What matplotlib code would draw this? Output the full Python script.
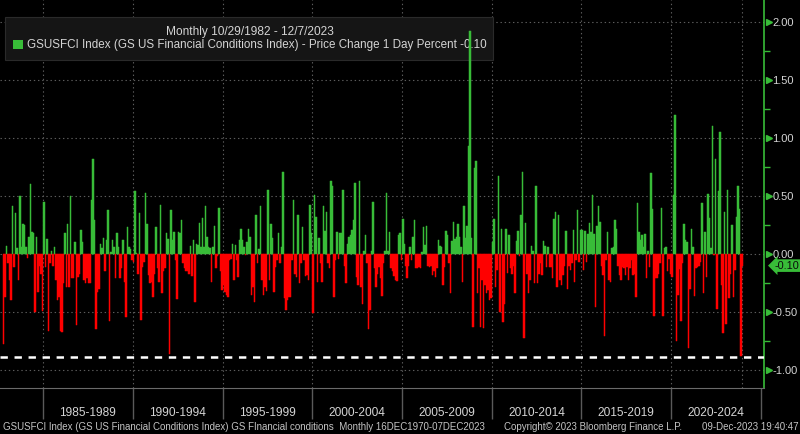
import numpy as np
import matplotlib
matplotlib.use('Agg')
import matplotlib.pyplot as plt
from matplotlib.patches import Rectangle
from matplotlib.ticker import MultipleLocator

# monthly change of the GS US Financial Conditions Index
# Oct 1982 - May 1987
chg_1982_1987 = [-0.78, -0.37, 0.07, -0.08, -0.22, -0.40, 0.41, -0.11, 0.35, 0.05,
                 -0.22, 0.50, 0.06, 0.26, 0.25, 0.06, -0.03, 0.15, 0.60, 0.19,
                 0.18, -0.50, 0.15, -0.33, -0.10, -0.17, -0.49, 0.45, -0.11, 0.13,
                 -0.66, -0.08, 0.03, -0.10, 0.06, -0.22, -0.40, -0.37, -0.66, -0.67,
                 -0.25, 0.18, -0.28, 0.26, -0.28, 0.50, -0.21, -0.21, 0.10, -0.61,
                 -0.20, -0.17, 0.21, 0.10, -0.22, -0.25]
# Jun 1987 - May 1992
chg_1987_1992 = [-0.21, -0.25, -0.25, 0.47, 0.82, 0.29, -0.65, -0.33, -0.30, 0.09,
                 0.05, 0.14, -0.15, 0.12, 0.38, -0.58, 0.02, 0.12, 0.06, -0.21,
                 0.18, 0.06, -0.21, -0.12, 0.12, -0.24, -0.54, 0.23, 0.06, 0.04,
                 -0.05, -0.07, 0.54, 0.01, -0.17, 0.35, -0.57, -0.11, -0.07, 0.53,
                 0.26, -0.18, -0.25, -0.24, -0.37, -0.17, 0.23, -0.12, -0.24, 0.42,
                 -0.34, -0.15, -0.12, 0.18, 0.13, -0.86, 0.38, 0.12, 0.19, -0.05]
# Jun 1992 - Nov 1996
chg_1992_1996 = [-0.39, 0.19, 0.18, 0.29, -0.08, -0.12, -0.15, -0.15, -0.17, 0.07,
                 -0.19, 0.12, -0.41, 0.09, 0.08, 0.27, 0.06, 0.31, 0.06, 0.41,
                 0.15, 0.06, 0.05, -0.24, 0.06, 0.24, -0.12, -0.02, 0.40, -0.15,
                 -0.31, -0.27, -0.33, -0.35, -0.37, -0.05, -0.04, 0.09, -0.22, 0.08,
                 -0.05, -0.20, 0.12, 0.22, 0.12, 0.06, -0.01, 0.10, 0.22, 0.15,
                 -0.35, -0.28, -0.41, 0.34]
# Dec 1996 - Oct 2001
chg_1996_2001 = [-0.08, 0.04, 0.41, -0.22, -0.35, -0.28, -0.32, 0.55, -0.22, 0.26,
                 0.14, -0.33, -0.11, -0.05, 0.18, -0.08, 0.06, 0.71, -0.38, -0.48,
                 -0.40, -0.37, -0.37, -0.05, 0.47, -0.17, -0.20, 0.34, -0.25, -0.08,
                 0.23, -0.05, -0.19, -0.18, -0.22, 0.42, 0.18, -0.51, 0.51, 0.32,
                 -0.24, 0.14, -0.08, -0.24, 0.41, 0.20, 0.36, -0.08, -0.12, 0.63,
                 0.59, -0.37, -0.05, 0.19, -0.04, 0.18, 0.18, 0.55, -0.10]
# Nov 2001 - Jul 2006
chg_2001_2006 = [-0.25, 0.09, 0.15, 0.16, 0.21, 0.29, 0.61, -0.20, -0.27, 0.63,
                 -0.28, -0.43, 0.03, 0.16, -0.08, -0.65, -0.48, 0.03, 0.45, -0.12,
                 -0.28, -0.17, -0.11, -0.21, -0.36, -0.08, 0.03, 0.53, 0.03, 0.19,
                 -0.12, -0.15, -0.19, -0.22, -0.23, 0.16, 0.18, -0.05, 0.30, 0.09,
                 -0.10, -0.21, -0.10, 0.06, -0.05, 0.15, 0.29, -0.12, -0.12, -0.11,
                 -0.12, 0.02, 0.23, 0.08, 0.24, -0.10, -0.11]
# Aug 2006 - Apr 2011
chg_2006_2011 = [-0.10, -0.18, -0.15, -0.20, -0.12, 0.12, 0.07, 0.06, -0.27, -0.11,
                 0.20, 0.16, -0.08, -0.34, 0.11, 0.28, 0.13, 0.15, 0.26, 0.15,
                 0.06, -0.24, 0.41, 0.14, 0.24, 0.93, 1.92, 0.14, -0.63, 0.74,
                 0.80, -0.34, -0.12, -0.63, -0.22, -0.64, -0.27, -0.34, -0.31, -0.40,
                 -0.38, 0.10, 0.30, -0.28, -0.14, 0.67, -0.50, 0.22, -0.59, -0.43,
                 0.22, -0.16, 0.16, -0.12, -0.17, -0.10, -0.34]
# May 2011 - Jan 2016
chg_2011_2016 = [0.11, 0.20, -0.02, 0.34, 0.71, -0.72, 0.27, -0.17, -0.34, -0.22,
                 0.07, 0.03, -0.25, 0.59, -0.25, -0.17, -0.08, -0.18, 0.11, 0.07,
                 -0.11, 0.06, -0.11, -0.11, -0.21, 0.30, 0.36, -0.28, 0.34, -0.22,
                 -0.27, -0.18, -0.10, 0.20, -0.30, -0.10, -0.14, -0.08, 0.21, -0.24,
                 -0.05, 0.38, -0.07, 0.21, 0.21, -0.14, 0.20, -0.07, 0.17, 0.27,
                 0.19, 0.51, 0.17, -0.46, 0.24, 0.41, 0.28]
# Feb 2016 - Mar 2020
chg_2016_2020 = [-0.10, -0.18, -0.71, -0.05, 0.19, -0.22, -0.24, 0.05, 0.06, 0.29,
                 0.22, -0.10, -0.18, -0.22, -0.11, -0.12, -0.18, -0.11, -0.22, -0.12,
                 -0.05, -0.18, -0.17, -0.37, 0.44, 0.19, 0.12, 0.16, 0.06, 0.17,
                 -0.21, 0.03, -0.11, 0.70, 0.39, -0.53, -0.21, -0.21, -0.17, -0.08,
                 0.40, -0.53, 0.05, 0.06, -0.15, -0.04, -0.17, -0.20, 0.51, 1.20]
# Apr 2020 - Dec 2023
chg_2020_2023 = [-0.75, -0.35, -0.13, -0.58, -0.08, 0.26, 0.12, 0.10, -0.81, -0.30,
                 0.22, 0.06, -0.36, -0.12, -0.11, -0.10, -0.07, 0.44, -0.34, 0.19,
                 -0.20, 0.52, 0.31, 0.05, 1.10, -0.01, 0.82, -0.47, 0.54, 1.05,
                 -0.27, -0.68, 0.36, -0.60, 0.55, -0.38, -0.17, 0.25, -0.37, -0.14,
                 0.32, 0.59, 0.39, -0.88, -0.10]

first_month = 1982 + 9 / 12      # Oct 1982
last_date = 2023 + 340 / 365     # 12/7/2023
dash_level = -0.885
last_value = '-0.10'
year_labels = ['1985-1989', '1990-1994', '1995-1999', '2000-2004',
               '2005-2009', '2010-2014', '2015-2019', '2020-2024']
y_ticks = [-1.0, -0.5, 0.0, 0.5, 1.0, 1.5, 2.0]

GREEN = '#38bc38'
RED = '#ff0000'
TXT = '#d4d4d4'

plt.rcParams['font.family'] = ['Liberation Sans', 'DejaVu Sans']
plt.rcParams['lines.scale_dashes'] = False

chg = np.array(chg_1982_1987 + chg_1987_1992 + chg_1992_1996 + chg_1996_2001 +
               chg_2001_2006 + chg_2006_2011 + chg_2011_2016 + chg_2016_2020 +
               chg_2020_2023)
x = first_month + np.arange(len(chg)) / 12
colors = np.where(chg >= 0, GREEN, RED)

fig = plt.figure(figsize=(8, 4.34), dpi=100, facecolor='black')
ax = fig.add_axes([0.0, 0.106, 0.955, 0.894], facecolor='black')

# legend box sits under the bars
ax.add_patch(Rectangle((0.006, 0.862), 0.61, 0.099, transform=fig.transFigure,
                       facecolor='#151515', edgecolor='#2a2a2a', lw=0.8, zorder=1.5))
ax.text(0.3125, 0.926, 'Monthly 10/29/1982 - 12/7/2023', transform=fig.transFigure,
        ha='center', va='center', fontsize=8.6, color=TXT, zorder=1.6)
ax.add_patch(Rectangle((0.016, 0.887), 0.0125, 0.021, transform=fig.transFigure,
                       facecolor=GREEN, edgecolor='none', zorder=1.6))
ax.text(0.034, 0.896,
        'GSUSFCI Index (GS US Financial Conditions Index) - Price Change 1 Day Percent ' + last_value,
        transform=fig.transFigure, ha='left', va='center', fontsize=8.4, color=TXT, zorder=1.6)

# bars
ax.bar(x, chg, width=1 / 12, align='edge', color=colors, edgecolor=colors, linewidth=0.35,
       zorder=2)
ax.axhline(dash_level, color='white', lw=1.8, dashes=(5.3, 4.8), zorder=3)

ax.set_xlim(1982.60, 2025.17)
ax.set_ylim(-1.155, 2.19)

# grid
for v in y_ticks:
    ax.axhline(v, color='#5c5c5c', lw=0.8, ls=(0, (1, 2)), zorder=1)
for yr in list(range(1985, 2025, 5)) + [last_date]:
    ax.axvline(yr, color='#5c5c5c', lw=0.8, ls=(0, (1, 2)), zorder=1)

# right axis
ax.yaxis.tick_right()
ax.set_yticks(y_ticks)
ax.set_yticklabels([f'{v:.2f}' for v in y_ticks])
ax.yaxis.set_minor_locator(MultipleLocator(0.25))
ax.tick_params(axis='y', which='major', length=0, pad=6, labelcolor=TXT, labelsize=8)
ax.tick_params(axis='y', which='minor', length=4, width=1, color=GREEN)
ax.plot(np.full(len(y_ticks), 1.006), y_ticks, ls='none', marker='>', ms=5, color=GREEN,
        transform=ax.get_yaxis_transform(), clip_on=False, zorder=4)

# bottom axis: separators and period labels
ax.set_xticks(range(1985, 2030, 5))
ax.set_xticklabels([])
ax.set_xticks([y + 2.5 for y in range(1985, 2025, 5)], minor=True)
ax.set_xticklabels(year_labels, minor=True)
ax.tick_params(axis='x', which='major', length=22, width=1, color='#5a5a5a')
ax.tick_params(axis='x', which='minor', length=0, pad=14, labelcolor=TXT, labelsize=8.6)

for s in ['left', 'top']:
    ax.spines[s].set_visible(False)
ax.spines['right'].set_color(GREEN)
ax.spines['right'].set_linewidth(1.2)
ax.spines['bottom'].set_color('#6a6a6a')

# last value tag
ax.text(1.014, -0.10, last_value, transform=ax.get_yaxis_transform(), ha='left', va='center',
        fontsize=7.8, color='#0a0a0a', clip_on=False, zorder=5,
        bbox=dict(boxstyle='larrow,pad=0.12', fc=GREEN, ec='none'))

# footer
fig.text(0.004, 0.016, 'GSUSFCI Index (GS US Financial Conditions Index) GS FInancial conditions  '
         'Monthly 16DEC1970-07DEC2023', fontsize=7.0, color='#c4c4c4', va='center')
fig.text(0.63, 0.016, 'Copyright\u00a9 2023 Bloomberg Finance L.P.', fontsize=7.0,
         color='#c4c4c4', va='center')
fig.text(0.998, 0.016, '09-Dec-2023 19:40:47', fontsize=7.0, color='#c4c4c4',
         va='center', ha='right')

fig.savefig('out.png', dpi=100, facecolor='black')
